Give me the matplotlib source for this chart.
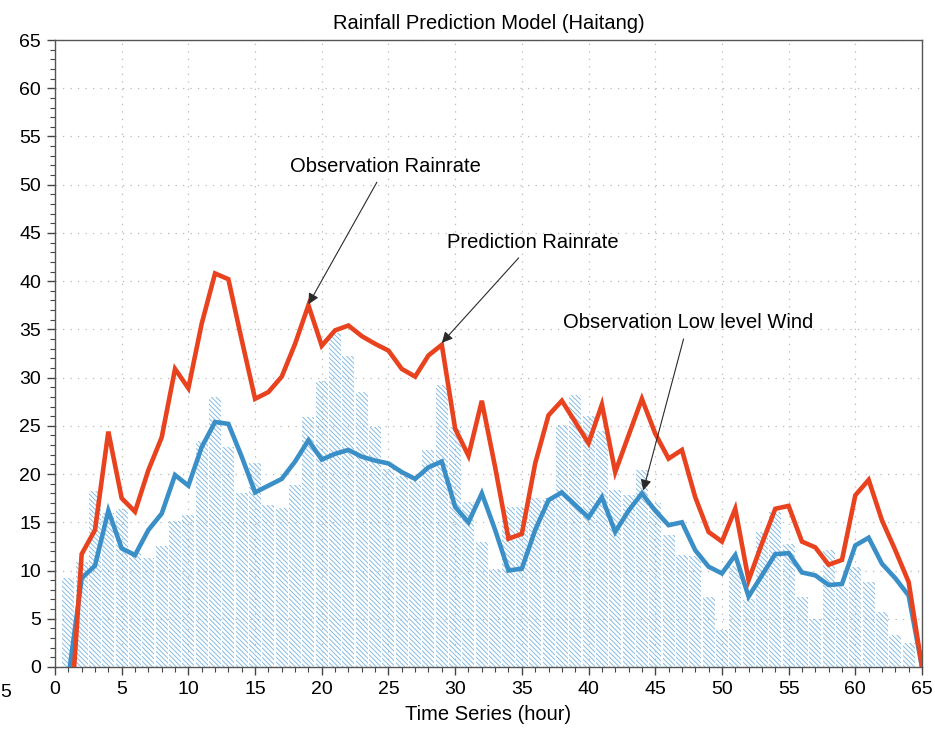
"""Rainfall prediction model chart (Haitang): hatched wind bars with two rainrate lines."""

import matplotlib

matplotlib.use("Agg")
import matplotlib.pyplot as plt
from matplotlib.ticker import MultipleLocator

plt.rcParams["font.family"] = ["Liberation Sans", "DejaVu Sans"]
plt.rcParams["hatch.linewidth"] = 0.65

# hourly series, hour 1..65
hours = list(range(1, 66))

low_level_wind = [
    9.2, 10.9, 18.2, 16.0, 16.4, 11.8, 11.3, 12.5, 15.1, 15.8,
    23.4, 28.0, 22.8, 18.0, 21.1, 16.8, 16.5, 18.9, 25.9, 29.6,
    34.6, 32.2, 28.5, 24.9, 20.5, 19.8, 19.3, 22.5, 29.2, 24.9,
    17.1, 13.0, 10.2, 16.6, 16.6, 17.5, 17.5, 25.1, 28.2, 26.0,
    24.5, 18.3, 17.8, 20.4, 17.0, 13.7, 11.6, 11.5, 7.3, 3.8,
    10.5, 7.0, 14.0, 16.1, 12.8, 7.3, 5.0, 12.1, 8.3, 10.4,
    8.8, 5.7, 3.3, 2.5, 0.0,
]

red_rainrate = [
    -9.0, 11.7, 14.2, 24.4, 17.5, 16.1, 20.4, 23.8, 30.9, 28.9,
    35.6, 40.8, 40.2, 33.9, 27.8, 28.5, 30.1, 33.5, 37.5, 33.3,
    34.9, 35.4, 34.3, 33.5, 32.8, 30.9, 30.1, 32.3, 33.4, 24.7,
    21.9, 27.6, 20.7, 13.3, 13.8, 21.1, 26.1, 27.6, 25.4, 23.2,
    27.2, 20.2, 24.0, 27.8, 24.2, 21.6, 22.5, 17.6, 14.0, 13.0,
    16.4, 9.0, 12.8, 16.4, 16.7, 13.0, 12.4, 10.6, 11.1, 17.8,
    19.4, 15.2, 12.1, 8.8, 0.0,
]

blue_rainrate = [
    -1.2, 9.2, 10.5, 16.2, 12.3, 11.6, 14.2, 15.9, 19.9, 18.8,
    22.8, 25.4, 25.2, 21.8, 18.1, 18.8, 19.5, 21.3, 23.5, 21.5,
    22.1, 22.5, 21.8, 21.4, 21.1, 20.2, 19.5, 20.7, 21.3, 16.6,
    15.0, 18.0, 14.2, 10.0, 10.2, 14.2, 17.3, 18.1, 16.8, 15.5,
    17.6, 14.0, 16.2, 18.0, 16.2, 14.7, 15.0, 12.1, 10.4, 9.7,
    11.6, 7.3, 9.5, 11.7, 11.8, 9.8, 9.5, 8.5, 8.6, 12.6,
    13.4, 10.7, 9.2, 7.4, 0.0,
]

# (label, text position, arrow target)
annotations = [
    ("Observation Rainrate", (24.8, 51.9), (19.0, 37.6)),
    ("Prediction Rainrate", (35.8, 44.0), (29.0, 33.6)),
    ("Observation Low level Wind", (47.45, 35.7), (44.1, 18.3)),
]

RED = "#e8421e"
BLUE = "#3b8fc7"
HATCH = "#7db7e2"


def main() -> None:
    fig = plt.figure(figsize=(9.35, 7.34), dpi=100)
    ax = fig.add_axes([0.0588, 0.0913, 0.9273, 0.8542])

    ax.bar(hours, low_level_wind, width=0.9, color="none", edgecolor=HATCH,
           hatch="\\" * 7, linewidth=0, zorder=1)
    ax.plot(hours, blue_rainrate, color=BLUE, lw=3.3, zorder=3,
            solid_joinstyle="miter", solid_capstyle="butt")
    ax.plot(hours, red_rainrate, color=RED, lw=3.3, zorder=4,
            solid_joinstyle="miter", solid_capstyle="butt")

    for label, text_xy, target in annotations:
        ax.annotate(
            label, xy=target, xytext=text_xy, ha="center", va="center",
            fontsize=14.5, zorder=6,
            arrowprops=dict(arrowstyle="-|>", color="#2a2a2a", lw=0.8,
                            mutation_scale=16, shrinkA=3, shrinkB=0),
        )

    ax.set_xlim(0, 65)
    ax.set_ylim(0, 65)
    ax.xaxis.set_major_locator(MultipleLocator(5))
    ax.yaxis.set_major_locator(MultipleLocator(5))
    ax.xaxis.set_minor_locator(MultipleLocator(1))
    ax.yaxis.set_minor_locator(MultipleLocator(1))
    ax.tick_params(which="major", direction="out", length=6, width=1,
                   color="#444444", labelsize=14, pad=4)
    ax.tick_params(which="minor", direction="out", length=3.5, width=0.8,
                   color="#444444")
    ax.grid(True, which="major", color="#b8b8b8", lw=0.9, ls=(0, (1, 5)), zorder=0)
    ax.set_axisbelow(True)
    for spine in ax.spines.values():
        spine.set_color("#555555")
        spine.set_linewidth(1.0)

    ax.set_title("Rainfall Prediction Model (Haitang)", fontsize=14.5, pad=8)
    ax.set_xlabel("Time Series (hour)", fontsize=14.5, labelpad=5)
    # stray tick label at the far left edge of the original
    fig.text(0.0, 0.0565, "5", fontsize=14, ha="left", va="center")

    fig.savefig("out.png", dpi=100)
    plt.close(fig)


if __name__ == "__main__":
    main()
